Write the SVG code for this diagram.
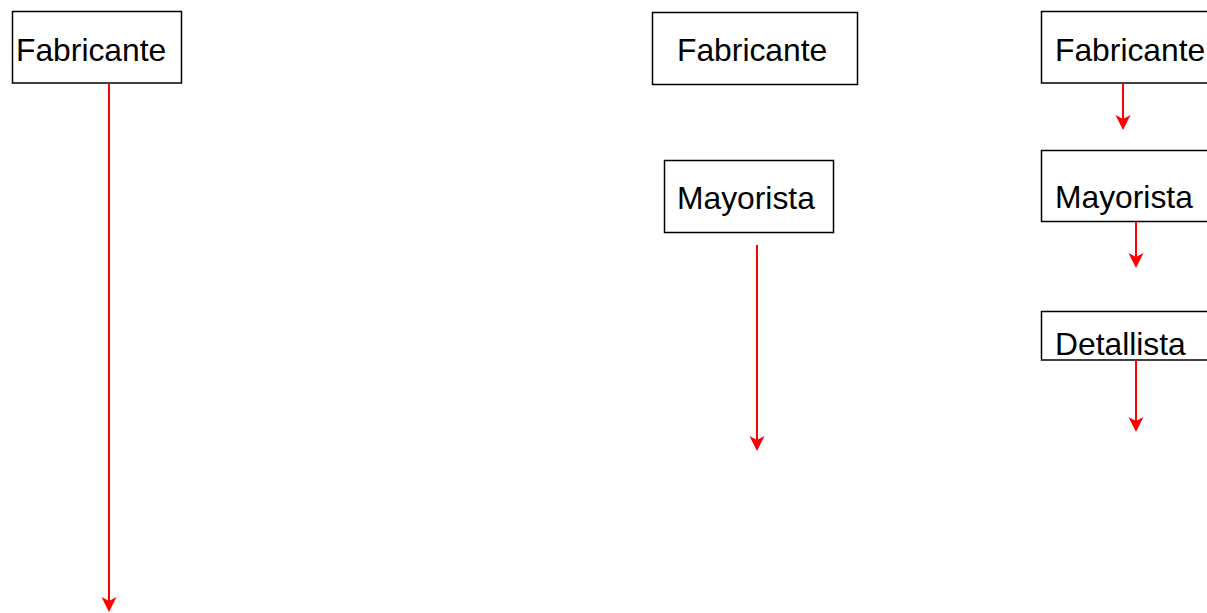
<svg xmlns="http://www.w3.org/2000/svg" width="1207" height="613" viewBox="0 0 1207 613">
  <style>
    .box { fill: #ffffff; stroke: #000000; stroke-width: 1.5; }
    .lbl { font-family: "Liberation Sans", Arial, sans-serif; font-size: 31.8px; fill: #000000; }
    .flow { stroke: #ff0000; stroke-width: 2; fill: none; }
  </style>
  <defs>
    <!-- notched arrowhead, tip at origin pointing down -->
    <path id="ah" d="M0,0 L-7.5,-15 L0,-11 L7.5,-15 Z" fill="#ff0000"/>
  </defs>
  <rect width="1207" height="613" fill="#ffffff"/>

  <!-- Column 1: direct channel -->
  <g id="fab1">
    <rect class="box" x="12.5" y="11.5" width="169" height="71.5"/>
    <text class="lbl" x="16" y="61">Fabricante</text>
  </g>

  <!-- Column 2: manufacturer / wholesaler -->
  <g id="fab2">
    <rect class="box" x="652.5" y="12.5" width="205" height="72"/>
    <text class="lbl" x="677" y="61">Fabricante</text>
  </g>
  <g id="may2">
    <rect class="box" x="664.5" y="160.5" width="169" height="72"/>
    <text class="lbl" x="677" y="209">Mayorista</text>
  </g>

  <!-- Column 3: manufacturer / wholesaler / retailer -->
  <g id="fab3">
    <rect class="box" x="1041.5" y="11.5" width="190" height="71.5"/>
    <text class="lbl" x="1055" y="61">Fabricante</text>
  </g>
  <g id="may3">
    <rect class="box" x="1041.5" y="150.5" width="190" height="71"/>
    <text class="lbl" x="1055" y="208">Mayorista</text>
  </g>
  <g id="det3">
    <rect class="box" x="1041.5" y="311.5" width="190" height="48.5"/>
    <text class="lbl" x="1055" y="355">Detallista</text>
  </g>

  <!-- Connectors -->
  <g id="connectors">
    <line class="flow" x1="109" y1="83" x2="109" y2="602"/>
    <use href="#ah" x="109" y="612"/>

    <line class="flow" x1="757" y1="245" x2="757" y2="441"/>
    <use href="#ah" x="757" y="451"/>

    <line class="flow" x1="1123" y1="83" x2="1123" y2="120"/>
    <use href="#ah" x="1123" y="130"/>

    <line class="flow" x1="1136" y1="222" x2="1136" y2="258"/>
    <use href="#ah" x="1136" y="268"/>

    <line class="flow" x1="1136" y1="360" x2="1136" y2="422"/>
    <use href="#ah" x="1136" y="432"/>
  </g>
</svg>
